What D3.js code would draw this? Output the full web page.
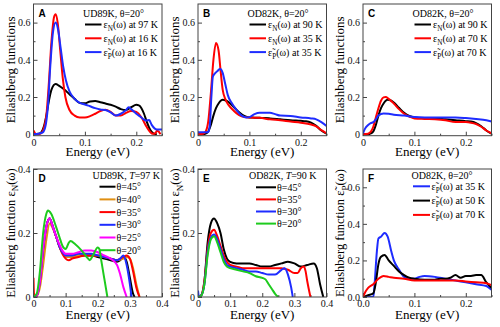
<!DOCTYPE html>
<html>
<head>
<meta charset="utf-8">
<script src="https://cdn.jsdelivr.net/npm/d3@7"></script>
<style>
  body { margin: 0; background: #fff; }
  svg { display: block; }
  svg text { font-family: "Liberation Serif", "Times New Roman", serif; }
  svg text.letter { font-family: "Liberation Sans", Arial, sans-serif; font-weight: bold; }
</style>
</head>
<body>
<div id="chart"></div>
<script>
// ---- data, [energy (eV), value] ----
// panel A, UD89K theta=20
const A_eN97 = [[0,0],[0.01,0.002],[0.015,0.01],[0.02,0.04],[0.025,0.1],[0.03,0.18],[0.035,0.24],[0.043,0.27],[0.05,0.26],[0.06,0.24],[0.07,0.215],[0.08,0.19],[0.09,0.168],[0.1,0.166],[0.11,0.176],[0.12,0.178],[0.13,0.172],[0.14,0.165],[0.15,0.158],[0.16,0.148],[0.17,0.135],[0.18,0.13],[0.19,0.145],[0.2,0.158],[0.205,0.155],[0.21,0.14],[0.215,0.11],[0.22,0.07],[0.225,0.035],[0.23,0.012],[0.235,0.002],[0.24,0]];
const A_eN16 = [[0,0.02],[0.004,0.003],[0.01,0],[0.015,0.005],[0.02,0.03],[0.025,0.1],[0.03,0.28],[0.035,0.5],[0.04,0.63],[0.043,0.645],[0.047,0.6],[0.052,0.45],[0.057,0.3],[0.062,0.2],[0.07,0.13],[0.08,0.1],[0.09,0.09],[0.1,0.09],[0.11,0.097],[0.12,0.11],[0.13,0.125],[0.14,0.132],[0.15,0.12],[0.16,0.1],[0.17,0.1],[0.18,0.115],[0.19,0.125],[0.2,0.12],[0.21,0.09],[0.22,0.04],[0.227,0.012],[0.232,0.002],[0.237,0.005],[0.24,0.018],[0.243,0.015],[0.247,0]];
const A_eP16 = [[0,0],[0.01,0.003],[0.018,0.01],[0.023,0.04],[0.028,0.15],[0.033,0.38],[0.038,0.55],[0.043,0.6],[0.048,0.56],[0.053,0.46],[0.058,0.36],[0.063,0.29],[0.07,0.23],[0.08,0.19],[0.09,0.168],[0.1,0.16],[0.11,0.15],[0.12,0.14],[0.13,0.133],[0.14,0.13],[0.15,0.118],[0.16,0.1],[0.17,0.11],[0.18,0.13],[0.185,0.145],[0.19,0.135],[0.2,0.11],[0.21,0.09],[0.215,0.078],[0.22,0.074],[0.225,0.076],[0.23,0.05],[0.236,0.03],[0.24,0.025],[0.25,0.025]];

// panel B, OD82K theta=20
const B_eN90 = [[0,0],[0.01,0],[0.015,0.003],[0.02,0.015],[0.025,0.05],[0.03,0.1],[0.035,0.14],[0.04,0.165],[0.048,0.185],[0.055,0.18],[0.06,0.172],[0.07,0.145],[0.08,0.118],[0.09,0.098],[0.1,0.09],[0.11,0.089],[0.12,0.088],[0.13,0.087],[0.14,0.085],[0.16,0.08],[0.18,0.075],[0.2,0.072],[0.21,0.07],[0.22,0.062],[0.23,0.045],[0.24,0.02],[0.25,0.003]];
const B_eN35 = [[0,0],[0.01,0.003],[0.015,0.015],[0.02,0.07],[0.025,0.22],[0.03,0.4],[0.035,0.49],[0.04,0.45],[0.044,0.34],[0.048,0.24],[0.053,0.19],[0.06,0.155],[0.07,0.125],[0.08,0.102],[0.09,0.092],[0.1,0.09],[0.12,0.088],[0.14,0.08],[0.16,0.075],[0.18,0.068],[0.2,0.062],[0.22,0.052],[0.23,0.042],[0.24,0.022],[0.25,0.005]];
const B_eP35 = [[0,0.01],[0.015,0.01],[0.02,0.012],[0.023,0.05],[0.026,0.2],[0.029,0.31],[0.034,0.33],[0.038,0.34],[0.043,0.35],[0.048,0.33],[0.053,0.27],[0.058,0.21],[0.065,0.17],[0.075,0.13],[0.085,0.1],[0.095,0.09],[0.1,0.092],[0.11,0.108],[0.12,0.115],[0.13,0.115],[0.14,0.115],[0.15,0.108],[0.16,0.1],[0.18,0.098],[0.2,0.09],[0.22,0.085],[0.23,0.08],[0.24,0.065],[0.25,0.045]];

// panel C, OD82K theta=20
const C_eN90 = [[0,0],[0.01,0],[0.015,0.004],[0.02,0.015],[0.025,0.05],[0.03,0.1],[0.035,0.14],[0.04,0.165],[0.048,0.185],[0.055,0.18],[0.06,0.17],[0.07,0.142],[0.08,0.115],[0.09,0.098],[0.1,0.09],[0.12,0.086],[0.14,0.085],[0.16,0.08],[0.18,0.075],[0.2,0.07],[0.21,0.068],[0.22,0.06],[0.23,0.043],[0.24,0.02],[0.25,0.003]];
const C_eN70 = [[0,0],[0.01,0.003],[0.015,0.012],[0.02,0.04],[0.025,0.09],[0.03,0.14],[0.035,0.18],[0.04,0.198],[0.044,0.2],[0.05,0.19],[0.06,0.165],[0.07,0.135],[0.08,0.11],[0.09,0.095],[0.1,0.085],[0.12,0.082],[0.14,0.08],[0.16,0.075],[0.18,0.065],[0.2,0.065],[0.21,0.062],[0.22,0.055],[0.23,0.04],[0.24,0.02],[0.25,0.005]];
const C_eP70 = [[0,0.005],[0.004,0.03],[0.01,0.05],[0.015,0.06],[0.02,0.065],[0.025,0.08],[0.03,0.1],[0.04,0.112],[0.05,0.11],[0.06,0.105],[0.08,0.1],[0.1,0.092],[0.12,0.09],[0.14,0.09],[0.16,0.09],[0.18,0.09],[0.2,0.087],[0.22,0.082],[0.24,0.075],[0.25,0.068]];

// panel D, UD89K T=97 K, eN for several angles
const D_t45 = [[0,0],[0.01,0.005],[0.02,0.05],[0.03,0.14],[0.04,0.22],[0.05,0.245],[0.06,0.22],[0.07,0.19],[0.08,0.16],[0.09,0.14],[0.1,0.13],[0.12,0.13],[0.14,0.13],[0.16,0.13],[0.18,0.13],[0.2,0.125],[0.22,0.12],[0.24,0.115],[0.26,0.11],[0.27,0.115],[0.28,0.125],[0.29,0.11],[0.3,0.06],[0.31,0.01],[0.315,0]];
const D_t40 = [[0,0],[0.01,0.003],[0.02,0.03],[0.03,0.1],[0.04,0.18],[0.05,0.23],[0.06,0.215],[0.07,0.19],[0.08,0.16],[0.09,0.14],[0.1,0.125],[0.12,0.125],[0.14,0.13],[0.16,0.135],[0.18,0.13],[0.2,0.13],[0.22,0.125],[0.24,0.12],[0.26,0.115],[0.28,0.12],[0.29,0.125],[0.3,0.12],[0.31,0.09],[0.32,0.04],[0.33,0]];
const D_t35 = [[0,0.06],[0.002,0],[0.01,0.005],[0.02,0.05],[0.03,0.15],[0.04,0.22],[0.05,0.245],[0.06,0.22],[0.07,0.19],[0.08,0.16],[0.09,0.135],[0.1,0.12],[0.11,0.115],[0.12,0.12],[0.14,0.125],[0.16,0.13],[0.18,0.13],[0.2,0.13],[0.22,0.125],[0.24,0.12],[0.26,0.115],[0.27,0.12],[0.28,0.125],[0.29,0.13],[0.3,0.12],[0.31,0.08],[0.32,0.03],[0.33,0]];
const D_t30 = [[0,0],[0.01,0.005],[0.02,0.05],[0.03,0.15],[0.04,0.22],[0.05,0.245],[0.06,0.22],[0.07,0.19],[0.08,0.16],[0.09,0.14],[0.1,0.13],[0.12,0.13],[0.14,0.135],[0.16,0.135],[0.18,0.135],[0.2,0.13],[0.22,0.125],[0.24,0.12],[0.26,0.115],[0.27,0.12],[0.28,0.13],[0.29,0.1],[0.3,0.04],[0.305,0]];
const D_t25 = [[0,0],[0.01,0.005],[0.02,0.05],[0.03,0.15],[0.04,0.22],[0.05,0.245],[0.06,0.22],[0.07,0.19],[0.08,0.165],[0.09,0.145],[0.1,0.135],[0.12,0.135],[0.14,0.14],[0.16,0.145],[0.18,0.145],[0.2,0.14],[0.22,0.13],[0.24,0.12],[0.26,0.1],[0.27,0.07],[0.28,0.03],[0.29,0]];
const D_t20 = [[0,0],[0.01,0.01],[0.02,0.08],[0.03,0.2],[0.04,0.26],[0.045,0.27],[0.055,0.26],[0.07,0.22],[0.08,0.19],[0.09,0.16],[0.1,0.15],[0.11,0.17],[0.115,0.175],[0.13,0.165],[0.15,0.145],[0.17,0.12],[0.175,0.115],[0.185,0.13],[0.2,0.155],[0.205,0.15],[0.21,0.12],[0.22,0.06],[0.23,0]];

// panel E, OD82K T=90 K
const E_t45 = [[0,0],[0.01,0.005],[0.02,0.05],[0.03,0.17],[0.04,0.23],[0.05,0.245],[0.055,0.24],[0.06,0.23],[0.07,0.2],[0.08,0.15],[0.09,0.12],[0.1,0.11],[0.12,0.105],[0.14,0.105],[0.16,0.105],[0.18,0.1],[0.2,0.095],[0.22,0.095],[0.24,0.1],[0.26,0.105],[0.28,0.11],[0.3,0.105],[0.32,0.095],[0.34,0.1],[0.36,0.105],[0.37,0.09],[0.38,0.04],[0.39,0]];
const E_t35 = [[0,0],[0.01,0.005],[0.02,0.05],[0.03,0.15],[0.04,0.2],[0.05,0.21],[0.06,0.19],[0.07,0.16],[0.08,0.13],[0.09,0.11],[0.1,0.1],[0.12,0.095],[0.14,0.09],[0.16,0.09],[0.18,0.09],[0.2,0.09],[0.22,0.09],[0.24,0.09],[0.26,0.09],[0.28,0.085],[0.3,0.075],[0.31,0.075],[0.32,0.09],[0.33,0.095],[0.335,0.08],[0.34,0.05],[0.35,0]];
const E_t30 = [[0,0.02],[0.003,0.002],[0.01,0.005],[0.02,0.04],[0.03,0.14],[0.04,0.185],[0.05,0.195],[0.06,0.18],[0.07,0.15],[0.08,0.12],[0.09,0.1],[0.1,0.095],[0.12,0.09],[0.14,0.085],[0.16,0.08],[0.18,0.08],[0.2,0.075],[0.22,0.07],[0.24,0.07],[0.26,0.085],[0.27,0.09],[0.28,0.07],[0.29,0.03],[0.295,0]];
const E_t20 = [[0,0],[0.01,0.004],[0.02,0.04],[0.03,0.13],[0.04,0.18],[0.05,0.19],[0.06,0.17],[0.07,0.14],[0.08,0.11],[0.09,0.095],[0.1,0.09],[0.12,0.085],[0.14,0.08],[0.16,0.075],[0.18,0.065],[0.2,0.06],[0.21,0.055],[0.22,0.04],[0.23,0.025],[0.24,0.01],[0.25,0]];

// panel F, OD82K theta=20, eP at three temperatures
const F_eP35 = [[0,0],[0.02,0],[0.022,0.05],[0.027,0.25],[0.03,0.32],[0.035,0.33],[0.042,0.35],[0.048,0.33],[0.055,0.25],[0.06,0.2],[0.07,0.15],[0.08,0.11],[0.09,0.1],[0.1,0.1],[0.11,0.11],[0.12,0.115],[0.14,0.11],[0.16,0.1],[0.18,0.09],[0.2,0.08],[0.22,0.07],[0.24,0.06],[0.25,0.04]];
const F_eP50 = [[0,0],[0.01,0.01],[0.02,0.02],[0.025,0.08],[0.03,0.18],[0.035,0.22],[0.042,0.23],[0.05,0.2],[0.06,0.17],[0.07,0.14],[0.08,0.12],[0.09,0.105],[0.1,0.1],[0.12,0.095],[0.14,0.095],[0.15,0.1],[0.16,0.1],[0.17,0.105],[0.18,0.12],[0.19,0.105],[0.2,0.115],[0.21,0.115],[0.22,0.12],[0.23,0.12],[0.24,0.08],[0.25,0.05]];
const F_eP70 = [[0,0],[0.005,0.03],[0.01,0.05],[0.02,0.07],[0.03,0.1],[0.04,0.115],[0.05,0.11],[0.06,0.105],[0.08,0.1],[0.1,0.09],[0.12,0.09],[0.14,0.09],[0.16,0.09],[0.18,0.09],[0.2,0.085],[0.22,0.08],[0.24,0.075],[0.25,0.065]];

// tick values / labels
const xTicksTop = [0, 0.1, 0.2];
const xLabelsTop = ["0", "0.1", "0.2"];
const xLabelsF = ["0.0", "0.1", "0.2"];
const yTicksTop = [0, 0.2, 0.4, 0.6];
const yLabelsTop = ["0", "0.2", "0.4", "0.6"];
const yLabelsF = ["0.0", "0.2", "0.4", "0.6"];
const xTicksWide = [0, 0.1, 0.2, 0.3, 0.4];
const xLabelsWide = ["0", "0.1", "0.2", "0.3", "0.4"];
const yTicksLow = [0, 0.2, 0.4];
const yLabelsLow = ["0", "0.2", "0.4"];

// legend texts: [string, style] where style is "" | "sub" | "it"
const eN = [["ε",""],["N","sub"]];
const eP = [["ε\u0303",""],["P","sub"]];

const colors = { black: "#000000", red: "#ff0000", blue: "#1e2cff", green: "#1ecb1e", orange: "#e08f12", magenta: "#ff00ff" };

const panels = [
  { letter: "A", col: 0, row: 0, xMax: 0.25, yDom: [-0.008, 0.7], xT: xTicksTop, xL: xLabelsTop, yT: yTicksTop, yL: yLabelsTop,
    ylabel: [["Eliashberg functions",""]],
    title: [["UD89K, θ=20°",""]], leg: { tx: 49.5, ty: 13, lx0: 51.5, lx1: 68, x: 70, y0: 20.5, dy: 13.8 },
    series: [
      { d: A_eN97, c: colors.black, t: eN.concat([["(ω) at 97 K",""]]) },
      { d: A_eN16, c: colors.red, t: eN.concat([["(ω) at 16 K",""]]) },
      { d: A_eP16, c: colors.blue, t: eP.concat([["(ω) at 16 K",""]]) } ] },
  { letter: "B", col: 1, row: 0, xMax: 0.25, yDom: [-0.008, 0.7], xT: xTicksTop, xL: xLabelsTop, yT: yTicksTop, yL: yLabelsTop,
    ylabel: [["Eliashberg functions",""]],
    title: [["OD82K, θ=20°",""]], leg: { tx: 49.5, ty: 13, lx0: 51.5, lx1: 68, x: 70, y0: 20.5, dy: 13.8 },
    series: [
      { d: B_eN90, c: colors.black, t: eN.concat([["(ω) at 90 K",""]]) },
      { d: B_eN35, c: colors.red, t: eN.concat([["(ω) at 35 K",""]]) },
      { d: B_eP35, c: colors.blue, t: eP.concat([["(ω) at 35 K",""]]) } ] },
  { letter: "C", col: 2, row: 0, xMax: 0.25, yDom: [-0.008, 0.7], xT: xTicksTop, xL: xLabelsTop, yT: yTicksTop, yL: yLabelsTop,
    ylabel: [["Eliashberg functions",""]],
    title: [["OD82K, θ=20°",""]], leg: { tx: 49.5, ty: 13, lx0: 51.5, lx1: 68, x: 70, y0: 20.5, dy: 13.8 },
    series: [
      { d: C_eN90, c: colors.black, t: eN.concat([["(ω) at 90 K",""]]) },
      { d: C_eN70, c: colors.red, t: eN.concat([["(ω) at 70 K",""]]) },
      { d: C_eP70, c: colors.blue, t: eP.concat([["(ω) at 70 K",""]]) } ] },
  { letter: "D", col: 0, row: 1, xMax: 0.4, yDom: [0, 0.4], xT: xTicksWide, xL: xLabelsWide, yT: yTicksLow, yL: yLabelsLow,
    ylabel: [["Eliashberg function ",""]].concat(eN, [["(ω)",""]]),
    title: [["UD89K, ",""],["T","it"],["=97 K",""]], leg: { tx: 59, ty: 10, lx0: 66, lx1: 82, x: 83, y0: 17.7, dy: 12.7 },
    series: [
      { d: D_t45, c: colors.black, t: [["θ=45°",""]] },
      { d: D_t40, c: colors.orange, t: [["θ=40°",""]] },
      { d: D_t35, c: colors.red, t: [["θ=35°",""]] },
      { d: D_t30, c: colors.blue, t: [["θ=30°",""]] },
      { d: D_t25, c: colors.magenta, t: [["θ=25°",""]] },
      { d: D_t20, c: colors.green, t: [["θ=20°",""]] } ] },
  { letter: "E", col: 1, row: 1, xMax: 0.4, yDom: [0, 0.4], xT: xTicksWide, xL: xLabelsWide, yT: yTicksLow, yL: yLabelsLow,
    ylabel: [["Eliashberg function ",""]].concat(eN, [["(ω)",""]]),
    title: [["OD82K, ",""],["T","it"],["=90 K",""]], leg: { tx: 51, ty: 10, lx0: 58, lx1: 78, x: 79, y0: 18.3, dy: 12.1 },
    series: [
      { d: E_t45, c: colors.black, t: [["θ=45°",""]] },
      { d: E_t35, c: colors.red, t: [["θ=35°",""]] },
      { d: E_t30, c: colors.blue, t: [["θ=30°",""]] },
      { d: E_t20, c: colors.green, t: [["θ=20°",""]] } ] },
  { letter: "F", col: 2, row: 1, xMax: 0.25, yDom: [0, 0.7], xT: xTicksTop, xL: xLabelsF, yT: yTicksTop, yL: yLabelsF,
    ylabel: [["Eliashberg function ",""]].concat(eP, [["(ω)",""]]),
    title: [["OD82K, θ=20°",""]], leg: { tx: 48.5, ty: 10, lx0: 50, lx1: 67, x: 68.5, y0: 17.3, dy: 14.3 },
    series: [
      { d: F_eP35, c: colors.blue, t: eP.concat([["(ω) at 35 K",""]]) },
      { d: F_eP50, c: colors.black, t: eP.concat([["(ω) at 50 K",""]]) },
      { d: F_eP70, c: colors.red, t: eP.concat([["(ω) at 70 K",""]]) } ] }
];

// ---- layout ----
const colLeft = [33.5, 198, 363];
const plotW = 128.5;
const rowTop = [4, 169];
const plotH = [131.7, 128];

const svg = d3.select("#chart").append("svg")
  .attr("width", 500).attr("height", 327);

// writes styled segments into a text element
function rich(text, parts, fs) {
  let shift = 0;
  parts.forEach(function (p) {
    const target = p[1] === "sub" ? fs * 0.3 : 0;
    const ts = text.append("tspan").attr("dy", target - shift).text(p[0]);
    shift = target;
    if (p[1] === "sub") ts.attr("font-size", fs * 0.72);
    if (p[1] === "it") ts.attr("font-style", "italic");
  });
}

panels.forEach(function (p) {
  const w = plotW, h = plotH[p.row];
  const g = svg.append("g")
    .attr("transform", "translate(" + colLeft[p.col] + "," + rowTop[p.row] + ")");

  const x = d3.scaleLinear().domain([0, p.xMax]).range([0, w]);
  const y = d3.scaleLinear().domain(p.yDom).range([h, 0]);

  const clipId = "clip" + p.letter;
  g.append("clipPath").attr("id", clipId)
    .append("rect").attr("width", w).attr("height", h);

  // minor ticks (every 0.05 on x, 0.1 on y)
  const xMinor = d3.range(0.05, p.xMax + 0.001, 0.1);
  const yMinor = d3.range(0.1, p.yDom[1], 0.2);

  const xAxis = d3.axisBottom(x).tickValues(p.xT)
    .tickFormat(function (d, i) { return p.xL[i]; })
    .tickSizeInner(-4).tickSizeOuter(0).tickPadding(3);
  const yAxis = d3.axisLeft(y).tickValues(p.yT)
    .tickFormat(function (d, i) { return p.yL[i]; })
    .tickSizeInner(-4).tickSizeOuter(0).tickPadding(3);

  const gx = g.append("g").attr("transform", "translate(0," + h + ")").call(xAxis);
  g.append("g").attr("transform", "translate(0," + h + ")")
    .call(d3.axisBottom(x).tickValues(xMinor).tickFormat("").tickSizeInner(-2).tickSizeOuter(0));
  g.append("g").call(yAxis);
  g.append("g")
    .call(d3.axisLeft(y).tickValues(yMinor).tickFormat("").tickSizeInner(-2).tickSizeOuter(0));

  g.selectAll(".domain").remove();
  g.selectAll("g").attr("font-family", null);
  g.selectAll(".tick line").attr("stroke", "#444");
  g.selectAll(".tick text").attr("font-size", 10).attr("fill", "#111");
  gx.selectAll(".tick text").attr("dy", "0.7em");

  // curves
  const line = d3.line()
    .x(function (d) { return x(d[0]); })
    .y(function (d) { return y(d[1]); })
    .curve(d3.curveMonotoneX);

  g.append("g").attr("clip-path", "url(#" + clipId + ")")
    .selectAll("path")
    .data(p.series)
    .enter()
    .append("path")
    .attr("d", function (s) { return line(s.d); })
    .attr("fill", "none")
    .attr("stroke", function (s) { return s.c; })
    .attr("stroke-width", 2)
    .attr("stroke-linejoin", "round");

  // frame
  g.append("rect").attr("width", w).attr("height", h)
    .attr("fill", "none").attr("stroke", "#444").attr("stroke-width", 1);

  // panel letter
  g.append("text").attr("class", "letter").attr("x", 5).attr("y", 13)
    .attr("font-size", 10)
    .text(p.letter);

  // legend
  const L = p.leg;
  rich(g.append("text").attr("x", L.tx).attr("y", L.ty).attr("font-size", 10), p.title, 10);
  p.series.forEach(function (s, i) {
    const yy = L.y0 + i * L.dy;
    g.append("line").attr("x1", L.lx0).attr("x2", L.lx1).attr("y1", yy).attr("y2", yy)
      .attr("stroke", s.c).attr("stroke-width", 2);
    rich(g.append("text").attr("x", L.x).attr("y", yy + 3.5).attr("font-size", 10), s.t, 10);
  });

  // axis titles
  g.append("text").attr("x", w / 2).attr("y", h + (p.row === 0 ? 20 : 21.5))
    .attr("text-anchor", "middle").attr("font-size", 13)
    .text("Energy (eV)");

  const yfs = p.row === 0 ? 13 : 12.5;
  rich(g.append("text")
    .attr("transform", "translate(" + (-19) + "," + (h / 2) + ") rotate(-90)")
    .attr("text-anchor", "middle").attr("font-size", yfs), p.ylabel, yfs);
});
</script>
</body>
</html>
